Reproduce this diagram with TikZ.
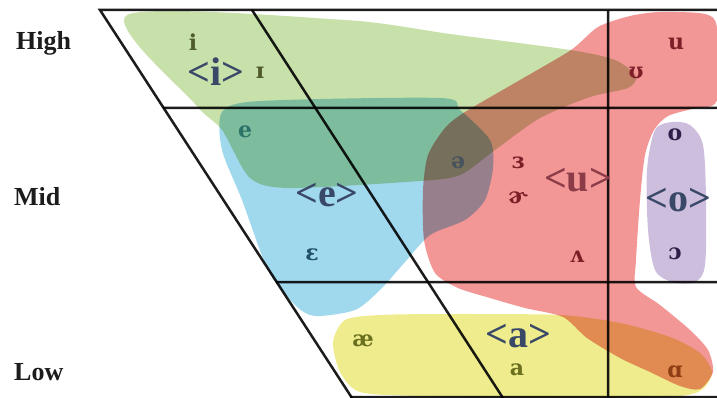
\documentclass[tikz,border=0pt]{standalone}
\usepackage{fontspec}
\setmainfont{Liberation Serif}
\newfontfamily\ipafont{DejaVu Serif}
\definecolor{Ink}{HTML}{1C1C1C}
\definecolor{Slate}{HTML}{3A4868}
\definecolor{BlobGreen}{HTML}{C8E0AA}
\definecolor{BlobBlue}{HTML}{A0D8EE}
\definecolor{BlobRed}{HTML}{F29696}
\definecolor{BlobPurple}{HTML}{CEBEDE}
\definecolor{BlobYellow}{HTML}{EEEC8C}
\definecolor{GreenInk}{HTML}{4E5B2A}
\definecolor{TealInk}{HTML}{2C7468}
\definecolor{BlueInk}{HTML}{22506A}
\definecolor{GreyInk}{HTML}{46525C}
\definecolor{RedInk}{HTML}{7E1F28}
\definecolor{RedSpell}{HTML}{8C3C48}
\definecolor{PurpleInk}{HTML}{2E1F48}
\definecolor{OliveInk}{HTML}{6A7020}
\definecolor{RustInk}{HTML}{8E3D14}
\tikzset{
  chart/.style={draw=Ink,line width=2.5pt},
  rowlabel/.style={font=\fontsize{26}{30}\selectfont\bfseries,anchor=base west,inner sep=0pt,text=Ink},
  ipa/.style={font=\ipafont\fontsize{22}{26}\selectfont\bfseries,inner sep=0pt},
  spelling/.style={font=\fontsize{40}{44}\selectfont\bfseries,inner sep=0pt,text=Slate}
}
\begin{document}
\begin{tikzpicture}[x=1pt,y=-1pt]
  \useasboundingbox (0,0) rectangle (717,398);
  \begin{scope}[blend group=multiply]
    % vowel chart
    \draw[chart] (717,10) -- (100,10) -- (352,398);
    \draw[chart] (252,10) -- (503,398);
    \draw[chart] (608,10) -- (608,398);
    \draw[chart] (163,108) -- (717,108);
    \draw[chart] (276,282) -- (717,282);
    \draw[chart] (350,397) -- (717,397);
    % spelling regions
    \fill[BlobGreen] plot[smooth cycle,tension=0.45] coordinates {
      (127,15) (345,20) (450,34) (570,50) (615,60) (636,76) (628,88) (590,97)
      (540,118) (495,150) (460,175) (420,181) (290,188) (250,178) (222,130) (195,104)};
    \fill[BlobBlue] plot[smooth cycle,tension=0.45] coordinates {
      (222,112) (260,101) (440,98) (460,110) (490,140) (493,168) (485,200)
      (465,220) (430,235) (405,262) (380,290) (355,310) (315,316) (295,305)
      (268,270) (242,200) (222,150)};
    \fill[BlobRed] plot[smooth cycle,tension=0.45] coordinates {
      (465,112) (520,80) (571,50) (598,27) (630,16) (660,12) (705,14) (717,28)
      (717,100) (695,108) (668,116) (654,130) (645,155) (640,200) (636,260)
      (636,287) (660,305) (690,330) (708,350) (713,372) (700,389) (680,386)
      (650,372) (620,358) (587,338) (563,317) (525,308) (490,298) (458,288)
      (435,273) (424,240) (423,190) (428,155) (445,128)};
    \fill[BlobPurple] plot[smooth cycle,tension=0.5] coordinates {
      (655,130) (672,122) (690,125) (703,145) (706,200) (705,265) (695,282)
      (672,282) (655,270) (648,230) (647,170)};
    \fill[BlobYellow] plot[smooth cycle,tension=0.45] coordinates {
      (345,320) (380,315) (450,314) (560,315) (620,323) (670,337) (700,353)
      (712,372) (703,389) (680,396) (600,398) (420,396) (360,392) (340,372)
      (333,342)};
  \end{scope}
  % heights
  \node[rowlabel] (high) at (16,50) {High};
  \node[rowlabel] (mid) at (14,205) {Mid};
  \node[rowlabel] (low) at (14,380) {Low};
  % vowels
  \node[ipa,text=GreenInk] (v-i) at (193,42) {i};
  \node[ipa,text=GreenInk] (v-ii) at (260,73) {ɪ};
  \node[ipa,text=TealInk] (v-e) at (245,132) {e};
  \node[ipa,text=BlueInk] (v-eh) at (312,255) {ɛ};
  \node[ipa,text=GreyInk] (v-schwa) at (458,163) {ə};
  \node[ipa,text=RedInk] (v-er) at (518,163) {ɜ};
  \node[ipa,text=RedInk] (v-rschwa) at (518,198) {ɚ};
  \node[ipa,text=RedInk] (v-wedge) at (577,257) {ʌ};
  \node[ipa,text=RedInk] (v-uu) at (636,73) {ʊ};
  \node[ipa,text=RedInk] (v-u) at (676,44) {u};
  \node[ipa,text=PurpleInk] (v-o) at (675,135) {o};
  \node[ipa,text=PurpleInk] (v-oh) at (675,254) {ɔ};
  \node[ipa,text=OliveInk] (v-ae) at (363,341) {æ};
  \node[ipa,text=OliveInk] (v-a) at (517,370) {a};
  \node[ipa,text=RustInk] (v-ah) at (675,372) {ɑ};
  % spellings
  \node[spelling] (sp-i) at (216,72) {<i>};
  \node[spelling] (sp-e) at (327,195) {<e>};
  \node[spelling,text=RedSpell] (sp-u) at (578,180) {<u>};
  \node[spelling] (sp-o) at (678,200) {<o>};
  \node[spelling] (sp-a) at (518,336) {<a>};
\end{tikzpicture}
\end{document}
